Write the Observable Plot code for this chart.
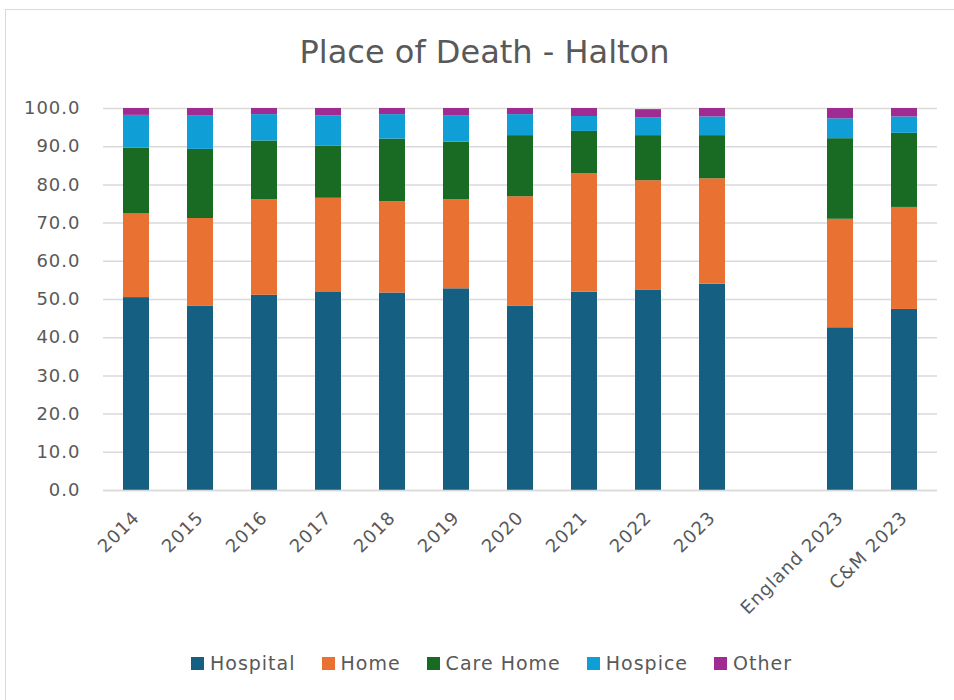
<!DOCTYPE html>
<html>
<head>
<meta charset="utf-8">
<script src="https://cdn.jsdelivr.net/npm/d3@7"></script>
<script src="https://cdn.jsdelivr.net/npm/@observablehq/plot@0.6"></script>
<style>
  html, body { margin: 0; padding: 0; background: #fff; }
  #wrap { position: relative; width: 954px; height: 700px; overflow: hidden; font-family: "DejaVu Sans", sans-serif; color: #595959; }
  #frame { position: absolute; left: 5px; top: 9px; width: 1000px; height: 1000px; border-left: 1.5px solid #d9d9d9; border-top: 1.5px solid #d9d9d9; box-sizing: border-box; }
  #title { position: absolute; left: 0; width: 969px; top: 34px; text-align: center; font-size: 32px; line-height: 36px; color: #595959; }
  #chart { position: absolute; left: 0; top: 0; }
  #legend { position: absolute; left: 0; width: 983px; top: 652px; display: flex; justify-content: center; align-items: center; font-size: 19px; letter-spacing: 1px; color: #595959; }
  .item { display: flex; align-items: center; margin: 0 13px; }
  .sw { width: 13px; height: 13px; margin-right: 6px; }
</style>
</head>
<body>
<div id="wrap">
  <div id="frame"></div>
  <div id="title">Place of Death - Halton</div>
  <div id="chart"></div>
  <div id="legend"></div>
</div>
<script>
// Categories (the blank entry is the gap before the comparators)
const categories = ["2014","2015","2016","2017","2018","2019","2020","2021","2022","2023"," ","England 2023","C&M 2023"];
const barCategories = ["2014","2015","2016","2017","2018","2019","2020","2021","2022","2023","England 2023","C&M 2023"];
const seriesNames = ["Hospital","Home","Care Home","Hospice","Other"];
const seriesColors = ["#156082","#E97132","#196B24","#0F9ED5","#A02B93"];

// Percentages per place of death, in barCategories order
const hospital = [50.5, 48.2, 51.1, 52.0, 51.7, 52.8, 48.3, 51.9, 52.5, 54.0, 42.6, 47.4];
const home     = [21.9, 23.0, 25.0, 24.5, 23.9, 23.3, 28.6, 31.0, 28.6, 27.6, 28.4, 26.7];
const careHome = [17.2, 18.1, 15.4, 13.6, 16.4, 15.1, 16.0, 11.1, 11.8, 11.3, 21.1, 19.4];
const hospice  = [ 8.6,  8.7,  6.9,  8.0,  6.4,  6.8,  5.5,  3.9,  4.7,  4.9,  5.2,  4.3];
const other    = [ 1.8,  2.0,  1.6,  1.9,  1.6,  2.0,  1.6,  2.1,  2.1,  2.2,  2.7,  2.2];

const yTicks = [0,10,20,30,40,50,60,70,80,90,100];

const seriesValues = [hospital, home, careHome, hospice, other];
const data = [];
barCategories.forEach((c, i) => {
  seriesNames.forEach((s, j) => data.push({category: c, series: s, value: seriesValues[j][i]}));
});

const plot = Plot.plot({
  width: 954,
  height: 640,
  marginTop: 108,
  marginBottom: 150,
  marginLeft: 103,
  marginRight: 17,
  style: {fontFamily: "DejaVu Sans, sans-serif", fontSize: "18px", color: "#595959", background: "transparent", letterSpacing: "1px"},
  x: {domain: categories, paddingInner: 0.6, paddingOuter: 0.3, label: null},
  y: {domain: [0, 100], label: null},
  color: {domain: seriesNames, range: seriesColors},
  marks: [
    Plot.gridY(yTicks, {stroke: "#d9d9d9", strokeOpacity: 1, strokeWidth: 1.5}),
    Plot.axisY({ticks: yTicks, tickSize: 0, tickPadding: 23, tickFormat: d => d.toFixed(1), label: null, fill: "#595959"}),
    Plot.axisX({tickSize: 0, tickPadding: 24, tickRotate: -45, label: null, fill: "#595959"}),
    Plot.barY(data, Plot.stackY({x: "category", y: "value", fill: "series", order: seriesNames})),
    Plot.ruleY([0], {stroke: "#d9d9d9", strokeWidth: 1.5})
  ]
});
document.getElementById("chart").appendChild(plot);

const legend = document.getElementById("legend");
seriesNames.forEach((s, i) => {
  const item = document.createElement("div");
  item.className = "item";
  const sw = document.createElement("div");
  sw.className = "sw";
  sw.style.background = seriesColors[i];
  const t = document.createElement("span");
  t.textContent = s;
  item.appendChild(sw);
  item.appendChild(t);
  legend.appendChild(item);
});
</script>
</body>
</html>
